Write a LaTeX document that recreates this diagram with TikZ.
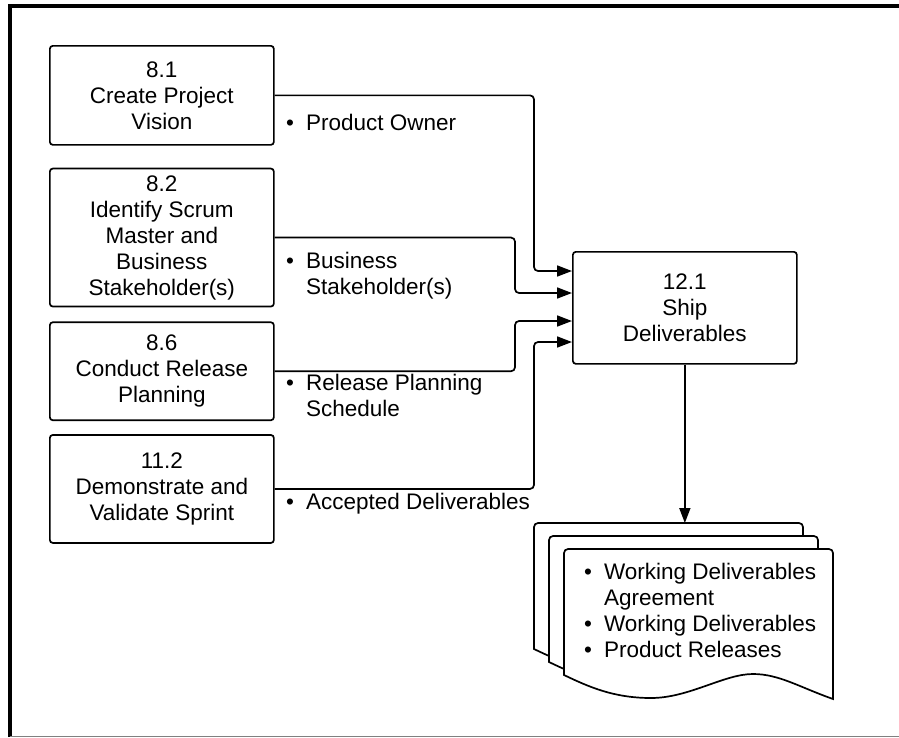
\documentclass[tikz,border=0pt]{standalone}
\usepackage{fontspec}
\setmainfont{Liberation Sans}
\usetikzlibrary{arrows.meta, positioning, calc}

\newcommand{\diafont}{\fontsize{22.5pt}{26pt}\selectfont}

\begin{document}
\begin{tikzpicture}[
    x=1pt, y=-1pt,
    process/.style={draw, line width=1.7pt, rounded corners=3pt, minimum width=224pt, align=center, font=\diafont, inner sep=2pt},
    note/.style={anchor=west, inner sep=0pt, font=\diafont},
    arrow/.style={-{Triangle[length=15pt, width=11pt]}, line width=1.7pt, rounded corners=4pt},
    paper/.style={draw, line width=1.7pt, fill=white}
  ]
    \useasboundingbox (0,0) rectangle (899,737);
    % frame
    \draw[line width=4pt] (10,737) -- (10,6) -- (899,6);
    \draw[gray, line width=1pt] (10,736) -- (899,736);

    \node[process, minimum height=99pt, anchor=north west] (vision) at (49,45) {8.1\\Create Project\\Vision};
    \node[process, minimum height=138pt, below=22pt of vision] (stake) {8.2\\Identify Scrum\\Master and\\Business\\Stakeholder(s)};
    \node[process, minimum height=98pt, below=14pt of stake] (release) {8.6\\Conduct Release\\Planning};
    \node[process, minimum height=108pt, below=13pt of release] (demo) {11.2\\Demonstrate and\\Validate Sprint};
    \node[process, minimum height=112pt, anchor=north west] (ship) at (572,251) {12.1\\Ship\\Deliverables};

    \coordinate (colA) at (534,0);
    \coordinate (colB) at (515,0);
    \coordinate (in1) at ([yshift=-20pt]ship.north west);
    \coordinate (in2) at ([yshift=-42pt]ship.north west);
    \coordinate (in3) at ([yshift=-70pt]ship.north west);
    \coordinate (in4) at ([yshift=-91pt]ship.north west);

    \draw[arrow] (vision.east) -| (colA |- in1) -- (in1);
    \draw[arrow] (stake.east) -| (colB |- in2) -- (in2);
    \draw[arrow] (release.east) -| (colB |- in3) -- (in3);
    \draw[arrow] (demo.east) -| (colA |- in4) -- (in4);

    \node[note] (owner) at (286,125) {\begin{tabular}{@{}l@{\hspace{12pt}}l@{}}\textbullet & Product Owner\end{tabular}};
    \node[note] (business) at (286,276) {\begin{tabular}{@{}l@{\hspace{12pt}}l@{}}\textbullet & Business\\ & Stakeholder(s)\end{tabular}};
    \node[note] (schedule) at (286,398) {\begin{tabular}{@{}l@{\hspace{12pt}}l@{}}\textbullet & Release Planning\\ & Schedule\end{tabular}};
    \node[note] (accepted) at (286,504) {\begin{tabular}{@{}l@{\hspace{12pt}}l@{}}\textbullet & Accepted Deliverables\end{tabular}};

    % output documents
    \foreach \k in {0,1,2}
      \draw[paper, shift={({534+15*\k},{523+13*\k})}]
        (0,126) [rounded corners=4pt] -- (0,0) -- (269,0) [sharp corners] -- (269,150)
        .. controls (235,138) and (215,125) .. (189,125)
        .. controls (160,125) and (125,149) .. (87,149)
        .. controls (50,149) and (25,138) .. (0,126) -- cycle;
    \coordinate (stacktop) at (ship.south |- 0,523);
    \draw[arrow] (ship.south) -- (stacktop);

    \node[note] (outputs) at (584,613) {\begin{tabular}{@{}l@{\hspace{12pt}}l@{}}\textbullet & Working Deliverables\\ & Agreement\\ \textbullet & Working Deliverables\\ \textbullet & Product Releases\end{tabular}};
  \end{tikzpicture}
\end{document}
